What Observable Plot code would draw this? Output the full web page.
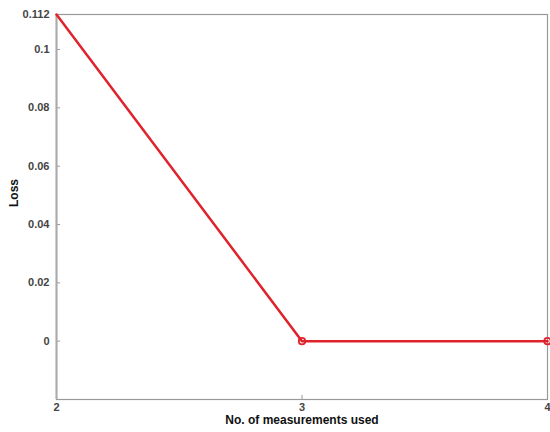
<!DOCTYPE html>
<html>
<head>
<meta charset="utf-8">
<script src="https://cdn.jsdelivr.net/npm/d3@7"></script>
<script src="https://cdn.jsdelivr.net/npm/@observablehq/plot@0.6"></script>
<style>
  html, body { margin: 0; padding: 0; background: #fff; }
  svg { overflow: visible; }
</style>
</head>
<body>
<div id="chart"></div>
<script>
const measurements = [2, 3, 4];
const loss = [0.112, 0, 0];
const yTicks = [0, 0.02, 0.04, 0.06, 0.08, 0.1, 0.112];
const xTicks = [2, 3, 4];
const xTitle = "No. of measurements used";
const yTitle = "Loss";

const data = measurements.map((m, i) => ({x: m, y: loss[i]}));
const red = "#e0232b";

const chart = Plot.plot({
  width: 550,
  height: 432,
  marginLeft: 56,
  marginRight: 3,
  marginTop: 14,
  marginBottom: 33,
  style: {fontFamily: "Liberation Sans, Arial, sans-serif", fontSize: "11px", overflow: "visible", background: "#fff"},
  x: {domain: [2, 4], ticks: xTicks},
  y: {domain: [-0.02, 0.112], ticks: yTicks},
  marks: [
    Plot.frame({stroke: "#999", strokeWidth: 1.2}),
    Plot.axisX({ticks: xTicks, tickSize: -4, stroke: "#999", label: null, tickFormat: () => ""}),
    Plot.axisX({ticks: xTicks, tickSize: 0, tickPadding: 4, label: null, fontWeight: "bold", fill: "#444", tickFormat: d3.format("d")}),
    Plot.axisY({ticks: yTicks, tickSize: -4, stroke: "#999", label: null, tickFormat: () => ""}),
    Plot.axisY({ticks: yTicks, tickSize: 0, tickPadding: 7, label: null, fontWeight: "bold", fill: "#444", tickFormat: d => String(d)}),
    Plot.ruleX([2], {stroke: "#aaa", strokeWidth: 2}),
    Plot.line(data, {x: "x", y: "y", stroke: red, strokeWidth: 2.5}),
    Plot.dot(data.filter(d => d.x > 2), {x: "x", y: "y", r: 3.2, stroke: red, strokeWidth: 1.8, fill: "none"}),
    Plot.text([xTitle], {frameAnchor: "bottom", dy: 24, text: d => d, fontWeight: "bold", fontSize: 12, fill: "#111"}),
    Plot.text([yTitle], {frameAnchor: "left", dx: -42, rotate: -90, text: d => d, fontWeight: "bold", fontSize: 12, fill: "#111"})
  ]
});
document.getElementById("chart").appendChild(chart);
</script>
</body>
</html>
